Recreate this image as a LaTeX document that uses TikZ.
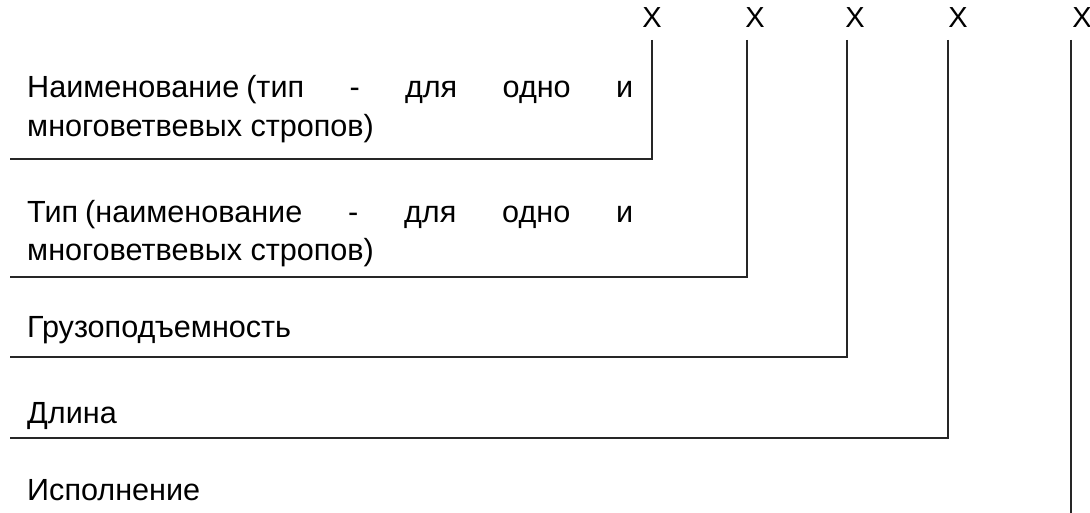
\documentclass[tikz,border=0pt]{standalone}
\usepackage{fontspec}
\setmainfont{Liberation Sans}
\usepackage{tikz}
\usetikzlibrary{positioning}

\begin{document}
\begin{tikzpicture}[x=1pt,y=-1pt,
    lbl/.style={anchor=base west,inner sep=0pt,font=\fontsize{30.6}{38}\selectfont},
    code/.style={anchor=base,inner sep=0pt,font=\fontsize{29}{36}\selectfont},
    lead/.style={line width=1.8pt,black!85}]
  \useasboundingbox (0,0) rectangle (1090,513);
  % code letters
  \node[code] (x1) at (652,28) {X};
  \node[code] (x2) at (755,28) {X};
  \node[code] (x3) at (855,28) {X};
  \node[code] (x4) at (958,28) {X};
  \node[code] (x5) at (1082,28) {X};
  % texts
  \node[lbl] (t1a) at (27,98) {\makebox[606pt][s]{Наименование\hspace{7pt}(тип - для одно и}};
  \node[lbl] (t1b) at (27,137) {многоветвевых стропов)};
  \node[lbl] (t2a) at (27,223) {\makebox[606pt][s]{Тип\hspace{7pt}(наименование - для одно и}};
  \node[lbl] (t2b) at (27,261) {многоветвевых стропов)};
  \node[lbl] (t3) at (27,337) {Грузоподъемность};
  \node[lbl] (t4) at (27,423) {Длина};
  \node[lbl] (t5) at (27,500) {Исполнение};
  % leaders
  \coordinate (v1) at (652,40);
  \coordinate (v2) at (747,40);
  \coordinate (v3) at (847,40);
  \coordinate (v4) at (948,40);
  \coordinate (v5) at (1071,40);
  \coordinate (h1) at (10,159);
  \coordinate (h2) at (10,277);
  \coordinate (h3) at (10,357);
  \coordinate (h4) at (10,438);
  \coordinate (h5) at (1071,513);
  \draw[lead] (v1) |- (h1);
  \draw[lead] (v2) |- (h2);
  \draw[lead] (v3) |- (h3);
  \draw[lead] (v4) |- (h4);
  \draw[lead] (v5) -- (h5);
\end{tikzpicture}
\end{document}
